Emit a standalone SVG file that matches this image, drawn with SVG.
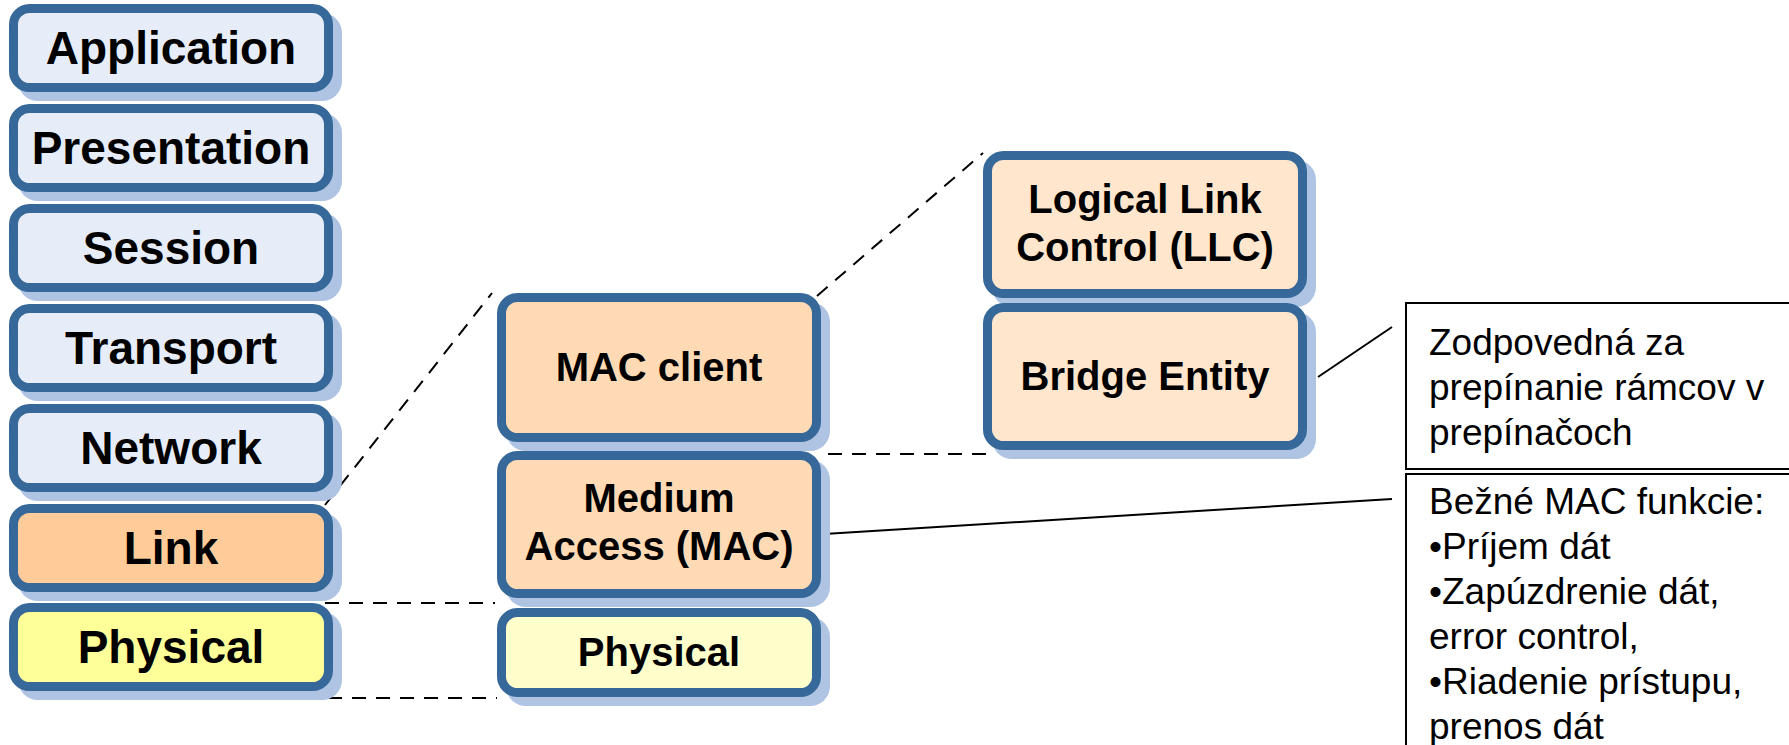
<svg xmlns="http://www.w3.org/2000/svg" width="1789" height="745" viewBox="0 0 1789 745">
<style>
  .shadow { fill: #afc3e3; }
  .box { stroke: #366899; stroke-width: 9; }
  .osi { fill: #e7edf8; }
  .link { fill: #ffcb98; }
  .phys { fill: #ffff99; }
  .mac { fill: #ffdab5; }
  .llc { fill: #ffe6cc; }
  .phys2 { fill: #ffffcc; }
  .big { font-family: "Liberation Sans", Arial, sans-serif; font-weight: bold; font-size: 46px; fill: #000; text-anchor: middle; }
  .mid { font-family: "Liberation Sans", Arial, sans-serif; font-weight: bold; font-size: 40px; fill: #000; text-anchor: middle; }
  .note { font-family: "Liberation Sans", Arial, sans-serif; font-size: 37px; fill: #000; }
  .notebox { fill: #fff; stroke: #000; stroke-width: 2; }
  .dash { fill: none; stroke: #000; stroke-width: 2; stroke-dasharray: 14 10; }
  .solid { fill: none; stroke: #000; stroke-width: 2; }
</style>
<rect width="1789" height="745" fill="#fff"/>

<g id="connectors">
  <line class="dash" x1="325" y1="505" x2="492" y2="293"/>
  <line class="dash" x1="817" y1="296" x2="983" y2="153"/>
  <line class="dash" x1="828" y1="454" x2="995" y2="454"/>
  <line class="dash" x1="325" y1="603" x2="495" y2="603"/>
  <line class="dash" x1="328" y1="698" x2="497" y2="698"/>
  <line class="solid" x1="1318" y1="377" x2="1392" y2="327"/>
  <line class="solid" x1="824" y1="534" x2="1392" y2="499"/>
</g>

<g id="application">
  <rect class="shadow" x="18" y="13" width="324" height="88" rx="20"/>
  <rect class="box osi" x="13.5" y="8.5" width="315" height="79" rx="16"/>
  <text class="big" x="171" y="64">Application</text>
</g>
<g id="presentation">
  <rect class="shadow" x="18" y="113" width="324" height="88" rx="20"/>
  <rect class="box osi" x="13.5" y="108.5" width="315" height="79" rx="16"/>
  <text class="big" x="171" y="164">Presentation</text>
</g>
<g id="session">
  <rect class="shadow" x="18" y="213" width="324" height="88" rx="20"/>
  <rect class="box osi" x="13.5" y="208.5" width="315" height="79" rx="16"/>
  <text class="big" x="171" y="264">Session</text>
</g>
<g id="transport">
  <rect class="shadow" x="18" y="313" width="324" height="88" rx="20"/>
  <rect class="box osi" x="13.5" y="308.5" width="315" height="79" rx="16"/>
  <text class="big" x="171" y="364">Transport</text>
</g>
<g id="network">
  <rect class="shadow" x="18" y="413" width="324" height="88" rx="20"/>
  <rect class="box osi" x="13.5" y="408.5" width="315" height="79" rx="16"/>
  <text class="big" x="171" y="464">Network</text>
</g>
<g id="link">
  <rect class="shadow" x="18" y="513" width="324" height="88" rx="20"/>
  <rect class="box link" x="13.5" y="508.5" width="315" height="79" rx="16"/>
  <text class="big" x="171" y="564">Link</text>
</g>
<g id="physical">
  <rect class="shadow" x="18" y="612" width="324" height="88" rx="20"/>
  <rect class="box phys" x="13.5" y="607.5" width="315" height="79" rx="16"/>
  <text class="big" x="171" y="663">Physical</text>
</g>

<g id="mac-client">
  <rect class="shadow" x="506" y="302" width="324" height="149" rx="20"/>
  <rect class="box mac" x="501.5" y="297.5" width="315" height="140" rx="16"/>
  <text class="mid" x="659" y="381">MAC client</text>
</g>
<g id="medium-access">
  <rect class="shadow" x="506" y="460" width="324" height="147" rx="20"/>
  <rect class="box mac" x="501.5" y="455.5" width="315" height="138" rx="16"/>
  <text class="mid" x="659" y="512">Medium</text>
  <text class="mid" x="659" y="560">Access (MAC)</text>
</g>
<g id="physical-mac">
  <rect class="shadow" x="506" y="617" width="324" height="89" rx="20"/>
  <rect class="box phys2" x="501.5" y="612.5" width="315" height="80" rx="16"/>
  <text class="mid" x="659" y="666">Physical</text>
</g>

<g id="llc">
  <rect class="shadow" x="992" y="160" width="324" height="147" rx="20"/>
  <rect class="box llc" x="987.5" y="155.5" width="315" height="138" rx="16"/>
  <text class="mid" x="1145" y="213">Logical Link</text>
  <text class="mid" x="1145" y="261">Control (LLC)</text>
</g>
<g id="bridge-entity">
  <rect class="shadow" x="992" y="312" width="324" height="147" rx="20"/>
  <rect class="box llc" x="987.5" y="307.5" width="315" height="138" rx="16"/>
  <text class="mid" x="1145" y="390">Bridge Entity</text>
</g>

<g id="note-bridge">
  <rect class="notebox" x="1406" y="303" width="420" height="166"/>
  <text class="note" x="1429" y="355">Zodpovedná za</text>
  <text class="note" x="1429" y="400">prepínanie rámcov v</text>
  <text class="note" x="1429" y="445">prepínačoch</text>
</g>
<g id="note-mac">
  <rect class="notebox" x="1406" y="474" width="420" height="320"/>
  <text class="note" x="1429" y="514">Bežné MAC funkcie:</text>
  <text class="note" x="1429" y="559">•Príjem dát</text>
  <text class="note" x="1429" y="604">•Zapúzdrenie dát,</text>
  <text class="note" x="1429" y="649">error control,</text>
  <text class="note" x="1429" y="694">•Riadenie prístupu,</text>
  <text class="note" x="1429" y="739">prenos dát</text>
</g>
</svg>
